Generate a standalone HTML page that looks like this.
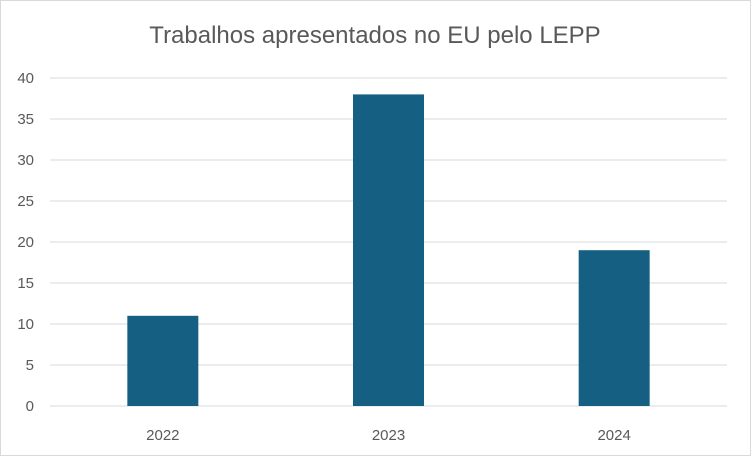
<!DOCTYPE html>
<html><head><meta charset="utf-8"><style>
body{margin:0;background:#fff}
svg{display:block;font-family:"Liberation Sans",sans-serif}
</style></head><body>
<svg id="chart" width="751" height="456">
<rect x="0.5" y="0.5" width="750" height="455" fill="#fff" stroke="#d9d9d9"/>
<text x="375" y="43" text-anchor="middle" font-size="24" fill="#595959">Trabalhos apresentados no EU pelo LEPP</text>
<g id="grid"></g><g id="bars"></g><g id="labels"></g>
</svg>
<script>
const categories=["2022","2023","2024"];
const values=[11,38,19];
const yTicks=[0,5,10,15,20,25,30,35,40];
const ns="http://www.w3.org/2000/svg";
const x0=50,x1=727,y0=406,y1=78,yMax=40;
const bw=(x1-x0)/categories.length;
const yS=v=>y0-(v/yMax)*(y0-y1);
const xC=i=>x0+bw*(i+0.5);
function mk(t,a,p){const e=document.createElementNS(ns,t);for(const k in a)e.setAttribute(k,a[k]);p.appendChild(e);return e;}
const g=document.getElementById('grid'),b=document.getElementById('bars'),l=document.getElementById('labels');
yTicks.forEach(t=>{
 const ln=mk('line',{x1:x0,x2:x1,y1:yS(t),y2:yS(t),stroke:'#d9d9d9','stroke-width':1},g);
 
 
 const tx=mk('text',{x:34,y:yS(t)+5,'text-anchor':'end','font-size':15,fill:'#595959'},l);
 tx.textContent=t;
 
 
});
categories.forEach((c,i)=>{
 const w=71;
 const r=mk('rect',{x:xC(i)-w/2,y:yS(values[i]),width:w,height:y0-yS(values[i]),fill:'#156082'},b);
 
 
 const tx=mk('text',{x:xC(i),y:440,'text-anchor':'middle','font-size':15,fill:'#595959'},l);
 tx.textContent=c;
 
 
});
</script>
</body></html>
